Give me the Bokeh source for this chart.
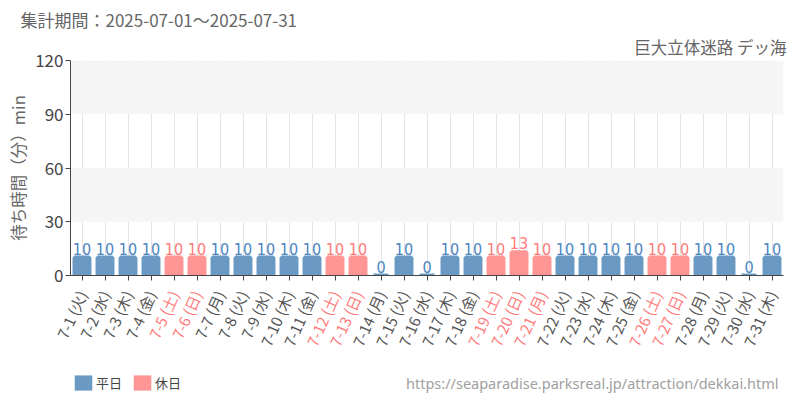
from bokeh.plotting import figure
from bokeh.layouts import column
from bokeh.models import (ColumnDataSource, LabelSet, Label, Legend, LegendItem,
                          FixedTicker, Range1d, Title, FactorRange, CustomJSTickFormatter)
from bokeh.core.properties import value
from bokeh.embed import file_html
from bokeh.resources import INLINE

dates = ["7-%d" % d for d in range(1, 32)]
weekdays = (["火", "水", "木", "金", "土", "日", "月"] * 5)[:31]
holiday = [5, 6, 12, 13, 19, 20, 21, 26, 27]
waits = [10, 10, 10, 10, 10, 10, 10, 10, 10, 10, 10, 10, 10, 0, 10, 0,
         10, 10, 10, 13, 10, 10, 10, 10, 10, 10, 10, 10, 10, 0, 10]
y_ticks = [0, 30, 60, 90, 120]
title_text = "集計期間：2025-07-01～2025-07-31"
sub_text = "巨大立体迷路 デッ海"
url_text = "https://seaparadise.parksreal.jp/attraction/dekkai.html"
legend_names = ["平日", "休日"]

BLUE = "#6a9ac4"
RED = "#ff9595"
BLUE_T = "#4a86bf"
RED_T = "#ff7b7b"
FONT = "Noto Sans CJK JP"

W = 800
LEFT, RIGHT = 70, 17
H1, H2 = 286, 112
PAD = 17  # px of extra room on each side of the lower strip

is_hol = [(i + 1) in holiday for i in range(31)]
labels = ["%s (%s)" % (d, w) for d, w in zip(dates, weekdays)]
hol_idx = [i for i in range(31) if is_hol[i]]
wk_idx = [i for i in range(31) if not is_hol[i]]

src_w = ColumnDataSource(dict(x=[dates[i] for i in wk_idx], top=[waits[i] for i in wk_idx],
                              txt=[str(waits[i]) for i in wk_idx]))
src_h = ColumnDataSource(dict(x=[dates[i] for i in hol_idx], top=[waits[i] for i in hol_idx],
                              txt=[str(waits[i]) for i in hol_idx]))
src_lab = ColumnDataSource(dict(x=dates, lab=labels,
                                col=[RED_T if h else "#555555" for h in is_hol]))

p = figure(x_range=dates, y_range=(0, 120), width=W, height=H1,
           output_backend="svg", toolbar_location=None,
           min_border_left=LEFT, min_border_right=RIGHT, min_border_top=60,
           min_border_bottom=H1 - 275)
p.frame_align = False
p.outline_line_color = None

r_w = p.vbar(x="x", top="top", width=0.65, source=src_w, fill_color=BLUE,
             line_color=BLUE, line_width=4)
r_h = p.vbar(x="x", top="top", width=0.65, source=src_h, fill_color=RED,
             line_color=RED, line_width=4)

for s, c in ((src_w, BLUE_T), (src_h, RED_T)):
    p.add_layout(LabelSet(x="x", y="top", text="txt", source=s, text_color=c,
                          text_font=value("DejaVu Sans Condensed"), text_font_size="16px",
                          text_align="center", text_baseline="bottom", y_offset=3))

p.xgrid.grid_line_color = "#e4e4e4"
p.ygrid.ticker = FixedTicker(ticks=y_ticks)
p.ygrid.grid_line_color = None
p.ygrid.band_fill_color = "#f5f5f5"
p.ygrid.band_fill_alpha = 1

xa = p.xaxis[0]
xa.formatter = CustomJSTickFormatter(code="return ''")
xa.major_label_text_font_size = "1px"
xa.major_label_standoff = 0
xa.axis_line_color = "#444444"
xa.major_tick_line_color = "#444444"
xa.major_tick_out = 5
xa.major_tick_in = 0
xa.minor_tick_line_color = None

ya = p.yaxis[0]
ya.ticker = FixedTicker(ticks=y_ticks)
ya.axis_line_color = "#444444"
ya.major_tick_line_color = "#444444"
ya.major_tick_out = 5
ya.major_tick_in = 0
ya.minor_tick_line_color = None
ya.major_label_text_font = FONT
ya.major_label_text_font_size = "17px"
ya.major_label_text_color = "#444444"
ya.major_label_standoff = 2
ya.axis_label = "待ち時間（分）min"
ya.axis_label_text_font = FONT
ya.axis_label_text_font_size = "16.5px"
ya.axis_label_text_font_style = "normal"
ya.axis_label_text_color = "#666666"
ya.axis_label_standoff = 2

p.title = Title(text=title_text, align="left", text_font=FONT, text_font_size="17px",
                text_color="#666666", text_font_style="normal", offset=-50, standoff=0)
p.add_layout(Title(text=sub_text, align="right", text_font=FONT, text_font_size="16.5px",
                   text_color="#666666", text_font_style="normal", offset=-3, standoff=3),
             "above")

# lower strip: day labels, legend and source url
cat_w = (W - LEFT - RIGHT) / len(dates)
x2 = FactorRange(factors=dates, range_padding=PAD / cat_w, range_padding_units="absolute")
p2 = figure(x_range=x2, y_range=Range1d(H2, 0), width=W, height=H2,
            output_backend="svg", toolbar_location=None,
            min_border_left=LEFT - PAD, min_border_right=RIGHT - PAD, min_border_top=0,
            min_border_bottom=0)
p2.frame_align = False
p2.outline_line_color = None
p2.axis.visible = False
p2.grid.visible = False
p2.text(x="x", y=5, text="lab", source=src_lab, text_color="col", angle=1.15,
        text_align="right", text_baseline="middle", text_font=value(FONT),
        text_font_size="15px")

# legend swatches: zero-height proxies that draw nothing in the strip
lw = p2.vbar(x=dates[:1], top=[0], bottom=[0], width=0.5, fill_color=BLUE, line_color=None)
lh = p2.vbar(x=dates[:1], top=[0], bottom=[0], width=0.5, fill_color=RED, line_color=None)
legend = Legend(items=[LegendItem(label=legend_names[0], renderers=[lw]),
                       LegendItem(label=legend_names[1], renderers=[lh])],
                location=(19, 6), orientation="horizontal",
                glyph_width=22, glyph_height=19, label_text_font=FONT,
                label_text_font_size="13px", label_text_color="#444444",
                label_standoff=2, spacing=9, padding=4, margin=0,
                label_height=19, border_line_color=None, background_fill_alpha=0)
p2.add_layout(legend, "center")
p2.add_layout(Label(x=W - 22 - (LEFT - PAD), y=16, x_units="screen", y_units="screen",
                    text=url_text, text_font="Noto Sans", text_font_size="14.5px",
                    text_color="#a0a0a0", text_baseline="middle", text_align="right"))

out = open("out.html", "w")
out.write(file_html(column(p, p2, spacing=0), INLINE))
out.close()
